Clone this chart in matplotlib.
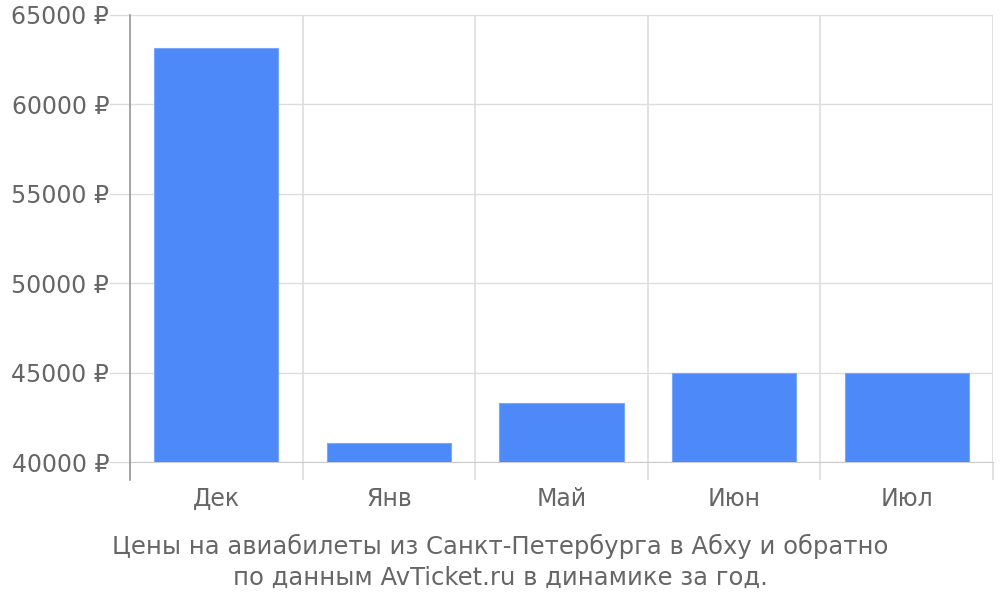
import numpy as np
import matplotlib.pyplot as plt
from matplotlib.lines import Line2D

months = ['Дек', 'Янв', 'Май', 'Июн', 'Июл']
prices = [63150, 41050, 43300, 45000, 44980]
y_ticks = [40000, 45000, 50000, 55000, 60000, 65000]
caption = 'Цены на авиабилеты из Санкт-Петербурга в Абху и обратно\nпо данным AvTicket.ru в динамике за год.'

plt.rcParams['font.family'] = ['DejaVu Sans']
text_color = '#666666'
grid_color = '#dddddd'

fig = plt.figure(figsize=(10, 6), dpi=100)
ax = fig.add_axes([0.13, 0.23, 0.863, 0.745])

x = np.arange(len(months))
ax.bar(x, prices, width=0.72, color='#4d89f9', edgecolor='#7aa6fb', linewidth=0.8, zorder=3)

ax.set_xlim(-0.5, len(months) - 0.5)
ax.set_ylim(y_ticks[0], y_ticks[-1])

ax.set_yticks(y_ticks)
ax.set_yticklabels(['{} ₽'.format(v) for v in y_ticks], fontsize=17, color=text_color)
ax.tick_params(axis='y', length=15, width=1, color=grid_color, pad=0)

ax.set_xticks(x)
ax.set_xticklabels(months, fontsize=17, color=text_color)
ax.tick_params(axis='x', which='major', length=0, pad=18)
ax.set_xticks(np.arange(-0.5, len(months)), minor=True)
ax.tick_params(axis='x', which='minor', length=13, width=1.2, color=grid_color)

ax.grid(axis='y', color=grid_color, linewidth=1, zorder=0)
ax.grid(axis='x', which='minor', color=grid_color, linewidth=1.2, zorder=0)

for s in ['top', 'right']:
    ax.spines[s].set_visible(False)
ax.spines['bottom'].set_color('#cccccc')
ax.spines['left'].set_visible(False)

# darker left axis line reaching below the plot area
ax.add_line(Line2D([0, 0], [-0.04, 1], transform=ax.transAxes, color='#999999',
                   linewidth=1.2, clip_on=False, zorder=4))

fig.text(0.5, 0.063, caption, ha='center', va='center', fontsize=17.5,
         color=text_color, linespacing=1.35)

plt.savefig('out.png', dpi=100)
